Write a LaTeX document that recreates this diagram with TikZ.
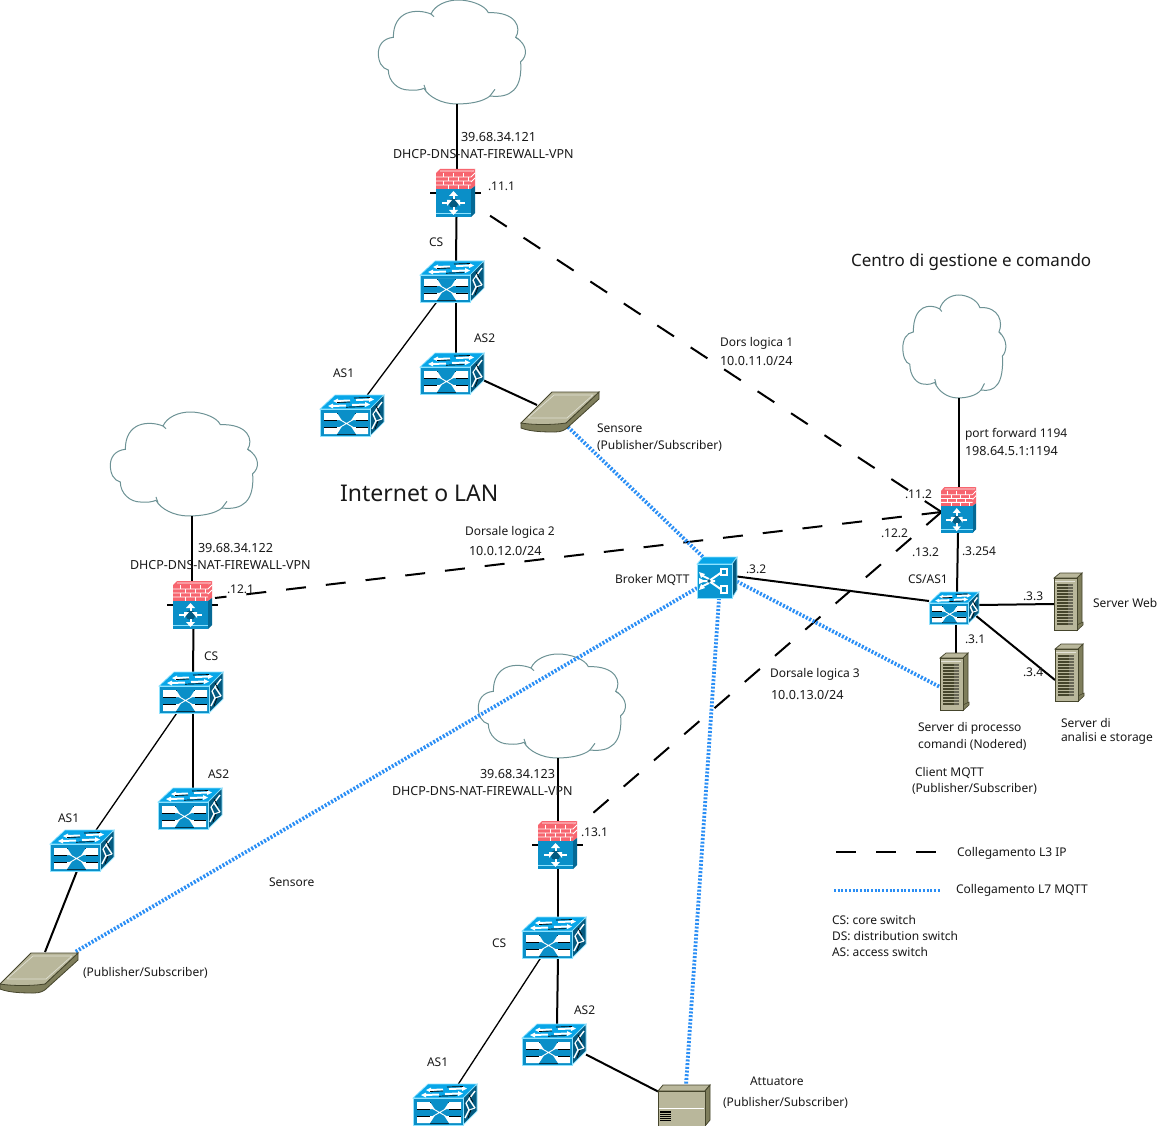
\documentclass[tikz,border=0pt]{standalone}
\usepackage{fontspec}
\setmainfont{Noto Sans}
\definecolor{swtop}{HTML}{08A6E8}
\definecolor{swfront}{HTML}{0A8FC8}
\definecolor{swside}{HTML}{045A80}
\definecolor{swedge}{HTML}{8FE3FF}
\definecolor{brick}{HTML}{F7656F}
\definecolor{tan}{HTML}{B9B79B}
\definecolor{tandark}{HTML}{7F7E5C}
\definecolor{tanline}{HTML}{45452C}
\definecolor{cloudline}{HTML}{6D9295}
\definecolor{mqtt}{HTML}{2A8EF5}
\tikzset{
  x=1pt,y=-1pt,
  lbl/.style={inner sep=0,outer sep=0,anchor=west,yshift=-.8pt,font=\fontsize{12}{14}\selectfont,text=black!90},
  lblw/.style={lbl,font=\fontsize{12.6}{14}\selectfont},
  lblh/.style={lbl,font=\fontsize{12.5}{14}\selectfont},
  link/.style={draw=black,line width=2pt},
  thinlink/.style={draw=black,line width=1.3pt},
  l3/.style={draw=black,line width=2pt,dash pattern=on 20pt off 20pt},
  l7/.style={draw=mqtt,line width=3.8pt,dash pattern=on 2pt off 1.7pt},
  iconbox/.style={inner sep=0,outer sep=0,anchor=north west},
  swbox/.style={iconbox,minimum width=64pt,minimum height=41pt},
  smallsw/.style={iconbox,minimum width=50pt,minimum height=32pt},
  fwbox/.style={iconbox,minimum width=39pt,minimum height=48pt},
  brokerbox/.style={iconbox,minimum width=40pt,minimum height=41pt},
  srvbox/.style={iconbox,minimum width=29pt,minimum height=58pt},
  sensbox/.style={iconbox,minimum width=78pt,minimum height=41pt},
  actbox/.style={iconbox,minimum width=52pt,minimum height=41pt},
  cloudbox/.style={iconbox,minimum width=148pt,minimum height=104pt},
  swicon/.pic={
    \fill[swtop,draw=swedge,line width=.7pt] (0,14)--(15,0)--(64,0)--(50,14)--cycle;
    \fill[swside,draw=swedge,line width=.7pt] (50,14)--(64,0)--(64,27)--(50,41)--cycle;
    \fill[swfront,draw=swedge,line width=.7pt] (0,14) rectangle (50,41);
    \fill[white] (4,18) rectangle (48,25) (4,32) rectangle (48,39);
    \draw[black,line width=.8pt] (17,18)--(36,18) (4,25.5)--(17,25.5) (36,25.5)--(48,25.5) (4,32)--(17,32) (36,32)--(48,32) (17,39)--(36,39);
    \fill[swfront] (17,17.6)--(36,17.6)--(29,28.5)--(36,39.4)--(17,39.4)--(24,28.5)--cycle;
    \draw[white,line width=.9pt] (17,23)--(36,34) (36,23)--(17,34);
    \draw[white,line width=2pt] (17,6)--(30,5.5) (36,5)--(50,4.5) (12,11)--(26,10.5) (32,10)--(46,9.5);
    \fill[white] (13,6)--(18,3.5)--(18,8.5)--cycle (54,4.5)--(49,2)--(49,7)--cycle (8,11)--(13,8.5)--(13,13.5)--cycle (50,9.5)--(45,7)--(45,12)--cycle;
    \draw[black,line width=.7pt] (17,7.5)--(30,7) (34,3)--(50,2.5) (26,12.2)--(44,11.6);
    \draw[white,line width=1.4pt] (52,34)--(56,26)--(53,19) (62,7)--(56,15)--(62,24);
    \draw[white,line width=1pt] (56,26)--(62,24) (53,19)--(56,15);
    \draw[black,line width=.6pt] (55,34)--(58,26) (56,11)--(60,18);
  },
  fwicon/.pic={
    \fill[brick] (0,4)--(4,0)--(39,0)--(35,4)--cycle;
    \fill[brick] (35,4)--(39,0)--(39,17)--(35,20)--cycle;
    \fill[brick] (0,4) rectangle (35,20);
    \fill[swside!80!swtop] (35,20)--(39,17)--(39,44)--(35,48)--cycle;
    \fill[swfront] (0,20) rectangle (35,48);
    \draw[white,line width=.8pt] (0,8)--(35,8) (0,12)--(35,12) (0,16)--(35,16) (35,8)--(39,4) (35,13)--(39,9) (4,2)--(38,2);
    \draw[white,line width=.8pt] (7,4)--(7,8) (17,4)--(17,8) (27,4)--(27,8) (12,8)--(12,12) (22,8)--(22,12) (32,8)--(32,12) (7,12)--(7,16) (17,12)--(17,16) (27,12)--(27,16) (12,16)--(12,20) (22,16)--(22,20) (32,16)--(32,20);
    \draw[swedge,line width=.8pt] (0,44)--(35,44);
    \fill[swside] (17.5,34) circle (5);
    \draw[white,line width=2pt] (6,34)--(13,34) (22,34)--(29,34) (17.5,24.5)--(17.5,30) (17.5,38)--(17.5,43.5);
    \fill[white] (16,31)--(11,37)--(11,31)--cycle (19,31)--(24,31)--(24,37)--cycle;
    \fill[white] (13,27)--(22,27)--(17.5,22)--cycle (13,41)--(22,41)--(17.5,46)--cycle;
  },
  brokericon/.pic={
    \fill[swtop,draw=swedge,line width=.7pt] (0,7)--(6,0)--(40,0)--(35,7)--cycle;
    \fill[swside,draw=swedge,line width=.7pt] (35,7)--(40,0)--(40,33)--(35,41)--cycle;
    \fill[swfront!70!swtop,draw=swedge,line width=.7pt] (0,7) rectangle (35,41);
    \draw[white,line width=2pt] (4,18)--(12,22) (4,30)--(12,26) (3,24)--(18,24) (12,24)--(25,15) (12,24)--(25,33);
    \fill[white] (2,21)--(8,24)--(2,27)--cycle (2,15)--(8,17)--(4,21)--cycle (2,33)--(8,31)--(4,27)--cycle;
    \draw[white,line width=1.2pt,fill=swfront] (24,12) rectangle (30,18) (24,29) rectangle (30,36);
    \fill[swside] (12,24) circle (1.8);
  },
  srvicon/.pic={
    \fill[tan,draw=tanline,line width=.7pt] (0,5)--(6,0)--(28,0)--(23,5)--cycle;
    \fill[tandark,draw=tanline,line width=.7pt] (23,5)--(28,0)--(28,50)--(23,57)--cycle;
    \fill[tandark,draw=tanline,line width=.6pt] (23,52) -- (29,49) -- (29,52) -- (23,57.5) --cycle;
    \fill[tan,draw=tanline,line width=.8pt] (0,5) rectangle (23,57);
    \foreach \yy in {12,15,...,51}{\draw[tanline,line width=1.2pt] (3,\yy)--(14,\yy); \draw[black!45!tan,line width=1.2pt] (14,\yy)--(19,\yy);}
    \draw[white!60!tan,line width=.6pt] (1,8.5)--(21,8.5);
  },
  sensicon/.pic={
    \fill[tandark,draw=tanline,line width=.8pt] (0,32)--(0,37) .. controls (10,41) and (25,41) .. (34,41) .. controls (40,41) and (44,39) .. (46,37) -- (78,8) -- (78,1) -- (45,32) --cycle;
    \fill[tan,draw=tanline,line width=.8pt] (0,32)--(31,1)--(78,1)--(45,32) .. controls (32,34) and (12,34) .. (0,32) --cycle;
    \draw[white!55!tan,line width=.7pt] (7,27)--(33,4)--(72,4) (7,27)--(46,27)--(72,4);
  },
  acticon/.pic={
    \fill[tan,draw=tanline,line width=.8pt] (0,6)--(5,0)--(52,0)--(47,6)--cycle;
    \fill[tandark,draw=tanline,line width=.8pt] (47,6)--(52,0)--(52,35)--(47,41)--cycle;
    \fill[tan,draw=tanline,line width=1pt] (0,6) rectangle (47,41);
    \draw[white,line width=1pt] (1,23)--(46,23);
    \foreach \yy in {27,29.2,...,36}{\draw[black,line width=1.1pt] (2,\yy)--(13,\yy);}
  },
  cloudicon/.pic={
    \begin{scope}[x=.3333pt,y=-.3333pt]
    \draw[cloudline,fill=white,line width=1pt] (70,112) .. controls (40,115) and (25,135) .. (25,160)
      .. controls (25,185) and (35,205) .. (55,210)
      .. controls (55,245) and (85,270) .. (115,270)
      .. controls (135,272) and (150,270) .. (162,265)
      .. controls (175,290) and (215,312) .. (260,312)
      .. controls (300,312) and (340,305) .. (360,288)
      .. controls (420,295) and (458,270) .. (452,185)
      .. controls (472,170) and (475,135) .. (437,112)
      .. controls (455,85) and (440,35) .. (355,38)
      .. controls (345,15) and (300,0) .. (265,0)
      .. controls (230,0) and (195,15) .. (183,42)
      .. controls (140,25) and (70,30) .. (70,112) -- cycle;
    \draw[cloudline,line width=1pt] (183,42)--(192,50) (162,255)--(168,272) (375,268)--(360,288) (437,112)--(446,118);
    \end{scope}
  },
}
\begin{document}
\begin{tikzpicture}
\useasboundingbox (0,0) rectangle (1160,1126);
\fill[white] (0,0) rectangle (1160,1126);
% --- icon frames
\node[cloudbox] (cl1) at (370,0) {};
\node[cloudbox] (cl2) at (102,412) {};
\node[cloudbox] (cl3) at (470,654) {};
\node[cloudbox,minimum width=104pt,minimum height=103pt] (cl4) at (897,295) {};
\node[fwbox] (fw1) at (436,169) {};
\node[fwbox] (fw2) at (173,581) {};
\node[fwbox] (fw3) at (538,821) {};
\node[fwbox,minimum width=35pt,minimum height=46pt] (fw4) at (941,487) {};
\node[swbox] (cs1) at (420,261) {};
\node[swbox] (a12) at (420,353) {};
\node[swbox] (a11) at (320,395) {};
\node[swbox] (cs2) at (159,672) {};
\node[swbox] (a22) at (158,788) {};
\node[swbox] (a21) at (50,830) {};
\node[swbox] (cs3) at (522,917) {};
\node[swbox] (a32) at (522,1024) {};
\node[swbox] (a31) at (413,1084) {};
\node[smallsw] (cs4) at (929,592) {};
\node[brokerbox] (brk) at (697,557) {};
\node[srvbox] (web) at (1054,573) {};
\node[srvbox] (ana) at (1055,644) {};
\node[srvbox] (prc) at (940,653) {};
\node[sensbox] (sn1) at (521,391) {};
\node[sensbox] (sn2) at (0,952) {};
\node[actbox] (act) at (658,1085) {};
\coordinate (p111) at (489,215);
\coordinate (p121) at (215,598);
\coordinate (p131) at (585,820);
\coordinate (pfw) at (941.5,512);
\coordinate (ld1) at (836,852);
\coordinate (ld2) at (936,852);
\coordinate (lm1) at (834,890.5);
\coordinate (lm2) at (941,890.5);
% --- clouds lie under the links
\foreach \n in {cl1,cl2,cl3}{\pic at (\n.north west) {cloudicon};}
\pic[xscale=.7,yscale=.99] at (cl4.north west) {cloudicon};
% --- solid links
\draw[link] ([xshift=13pt]cl1.south) -- ([xshift=1.5pt]fw1.north);
\draw[link] ([xshift=1pt]fw1.south) -- ([xshift=4pt]cs1.north);
\draw[link] ([xshift=4pt]cs1.south) -- ([xshift=4pt]a12.north);
\draw[thinlink] (cs1) -- (a11);
\draw[link] ([yshift=-7pt]a12.east) -- ([shift={(16,-6.5)}]sn1.west);
\draw[link] ([xshift=16pt]cl2.south) -- ([xshift=-.5pt]fw2.north);
\draw[link] ([xshift=1pt]fw2.south) -- ([xshift=2pt]cs2.north);
\draw[link] ([xshift=2pt]cs2.south) -- ([xshift=3pt]a22.north);
\draw[thinlink] (cs2) -- (a21);
\draw[link] ([xshift=-5pt]a21.south) -- ([xshift=6pt]sn2.north);
\draw[link] ([xshift=14pt]cl3.south) -- ([xshift=.5pt]fw3.north);
\draw[link] ([xshift=.5pt]fw3.south) -- ([xshift=4pt]cs3.north);
\draw[link] ([xshift=4pt]cs3.south) -- ([xshift=3pt]a32.north);
\draw[thinlink] (cs3) -- (a31);
\draw[link] ([yshift=-10pt]a32.east) -- ([yshift=14pt]act.west);
\draw[link] ([xshift=10pt]cl4.south) -- ([xshift=.5pt]fw4.north);
\draw[link] ([xshift=-.5pt]fw4.south) -- ([xshift=3pt]cs4.north);
\draw[link] ([xshift=2pt]cs4.south) -- ([xshift=1.5pt]prc.north);
\draw[link] ([yshift=3pt]cs4.east) -- ([yshift=-2pt]web.west);
\draw[link] ([shift={(-4,7)}]cs4.east) -- ([yshift=-7pt]ana.west);
\draw[link] ([yshift=1pt]brk.east) -- ([yshift=7pt]cs4.west);
% firewall stubs
\draw[link] ([shift={(-6,0)}]fw1.west) -- ([shift={(6,0)}]fw1.east);
\draw[link] ([shift={(-6,0)}]fw2.west) -- ([shift={(6,0)}]fw2.east);
\draw[link] ([shift={(-6,0)}]fw3.west) -- ([shift={(6,0)}]fw3.east);
% --- L3 logical links
\draw[l3] (pfw) -- (p111);
\draw[l3] (pfw) -- (p121);
\draw[l3] (pfw) -- (p131);
% --- L7 links
\draw[l7] ([shift={(8,-5)}]sn1.south) -- ([xshift=6pt]brk.north west);
\draw[l7] ([yshift=-4pt]brk.east) -- ([yshift=-5pt]prc.west);
\draw[l7] ([shift={(0,31)}]brk.north west) -- ([xshift=36pt]sn2.north);
\draw[l7] ([xshift=2pt]brk.south) -- ([xshift=2pt]act.north);
% --- legend lines
\draw[l3] (ld1) -- (ld2);
\draw[l7] (lm1) -- (lm2);
% --- icons
\foreach \n in {fw1,fw2,fw3}{\pic at (\n.north west) {fwicon};}
\pic[xscale=.9,yscale=.96] at (fw4.north west) {fwicon};
\foreach \n in {cs1,a12,a11,cs2,a22,a21,cs3,a32,a31}{\pic at (\n.north west) {swicon};}
\pic[scale=.78] at (cs4.north west) {swicon};
\pic at (brk.north west) {brokericon};
\foreach \n in {web,ana,prc}{\pic at (\n.north west) {srvicon};}
\foreach \n in {sn1,sn2}{\pic at (\n.north west) {sensicon};}
\pic at (act.north west) {acticon};
% --- labels
\node[lblw] (t1) at (461,136) {39.68.34.121};
\node[lblh] (t2) at (393,153) {DHCP-DNS-NAT-FIREWALL-VPN};
\node[lbl] (t3) at (488,186) {.11.1};
\node[lbl] (t4) at (429,241) {CS};
\node[lbl] (t5) at (474,337) {AS2};
\node[lbl] (t6) at (333,372) {AS1};
\node[lbl,font=\fontsize{17}{20}\selectfont] (t7) at (851,261) {Centro di gestione e comando};
\node[lbl] (t8) at (720,343) {Dors logica 1};
\node[lblw] (t9) at (720,360) {10.0.11.0/24};
\node[lbl] (t10) at (965,434) {port forward 1194};
\node[lblw] (t11) at (965,450) {198.64.5.1:1194};
\node[lbl] (t12) at (905,493) {.11.2};
\node[lbl] (t13) at (881,532) {.12.2};
\node[lbl] (t14) at (912,551) {.13.2};
\node[lbl] (t15) at (962,550) {.3.254};
\node[lbl] (t16) at (597,427) {Sensore};
\node[lbl] (t17) at (597,445) {(Publisher/Subscriber)};
\node[lbl,font=\fontsize{23}{28}\selectfont] (t18) at (340,493) {Internet o LAN};
\node[lbl] (t19) at (465,532) {Dorsale logica 2};
\node[lblw] (t20) at (469,550) {10.0.12.0/24};
\node[lblw] (t21) at (198,547) {39.68.34.122};
\node[lblh] (t22) at (130,564) {DHCP-DNS-NAT-FIREWALL-VPN};
\node[lbl] (t23) at (227,588) {.12.1};
\node[lbl] (t24) at (204,655) {CS};
\node[lbl] (t25) at (208,773) {AS2};
\node[lbl] (t26) at (58,817) {AS1};
\node[lbl] (t27) at (269,881) {Sensore};
\node[lbl] (t28) at (83,972) {(Publisher/Subscriber)};
\node[lbl] (t29) at (615,579) {Broker MQTT};
\node[lbl] (t30) at (746,568) {.3.2};
\node[lbl] (t31) at (908,578) {CS/AS1};
\node[lbl] (t32) at (1023,595) {.3.3};
\node[lbl] (t33) at (1093,602) {Server Web};
\node[lbl] (t34) at (965,638) {.3.1};
\node[lbl] (t35) at (1023,671) {.3.4};
\node[lbl] (t36) at (770,674) {Dorsale logica 3};
\node[lblw] (t37) at (771,694) {10.0.13.0/24};
\node[lbl] (t38) at (918,728) {Server di processo};
\node[lbl] (t39) at (918,744) {comandi (Nodered)};
\node[lbl] (t40) at (1061,722) {Server di};
\node[lbl] (t41) at (1061,738) {analisi e storage};
\node[lbl] (t42) at (915,772) {Client MQTT};
\node[lbl] (t43) at (912,788) {(Publisher/Subscriber)};
\node[lblw] (t44) at (480,773) {39.68.34.123};
\node[lblh] (t45) at (392,790) {DHCP-DNS-NAT-FIREWALL-VPN};
\node[lbl] (t46) at (581,831) {.13.1};
\node[lbl] (t47) at (957,853) {Collegamento L3 IP};
\node[lbl] (t48) at (956,890) {Collegamento L7 MQTT};
\node[lbl] (t49) at (832,919) {CS: core switch};
\node[lbl] (t50) at (832,935) {DS: distribution switch};
\node[lbl] (t51) at (832,951) {AS: access switch};
\node[lbl] (t52) at (492,942) {CS};
\node[lbl] (t53) at (574,1009) {AS2};
\node[lbl] (t54) at (427,1061) {AS1};
\node[lbl] (t55) at (750,1080) {Attuatore};
\node[lbl] (t56) at (723,1102) {(Publisher/Subscriber)};
\end{tikzpicture}
\end{document}
